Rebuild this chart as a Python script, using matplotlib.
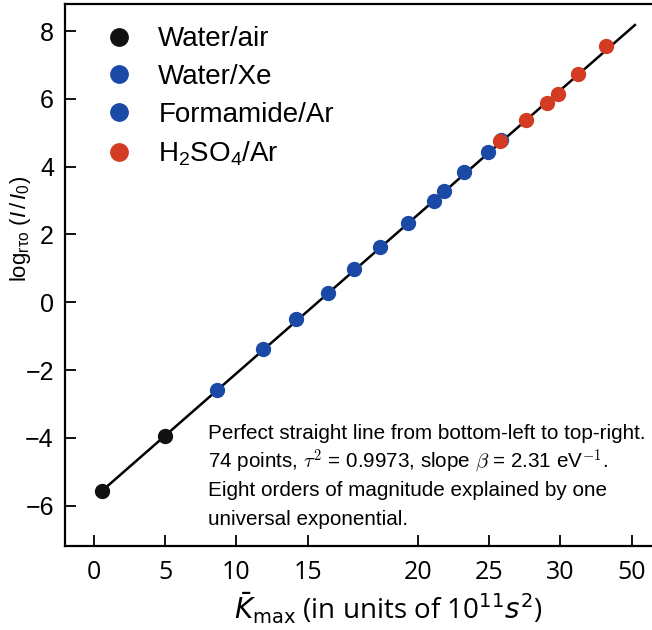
import numpy as np
import matplotlib
matplotlib.use("Agg")
import matplotlib.pyplot as plt

# ---------------- data ----------------
tick_values = [0, 5, 10, 15, 20, 25, 30, 50]
tick_labels = ["0", "5", "10", "15", "20", "25", "30", "50"]
yticks = [-6, -4, -2, 0, 2, 4, 6, 8]

water_air_x = [0.54, 4.95]
water_air_y = [-5.57, -3.94]

water_xe_x = [8.61, 11.88, 14.21, 15.90, 17.08, 18.29]
water_xe_y = [-2.60, -1.38, -0.50, 0.26, 0.97, 1.64]

formamide_x = [19.55, 21.15, 21.85, 23.26, 24.90, 25.85]
formamide_y = [2.33, 2.99, 3.28, 3.83, 4.42, 4.78]

h2so4_x = [25.77, 27.58, 29.06, 29.79, 34.9, 42.8]
h2so4_y = [4.76, 5.38, 5.88, 6.14, 6.74, 7.56]

fit_x = [0.54, 50.9]
fit_y = [-5.57, 8.18]

# piecewise axis mapping (non-uniform tick spacing of the original)
scale_k = [-5, 0, 5, 10, 15, 20, 25, 30, 50, 70]
scale_p = [-1, 0, 1, 2, 3, 4.55, 5.55, 6.55, 7.55, 8.55]

def fwd(x):
    return np.interp(np.asarray(x, dtype=float), scale_k, scale_p)

# ---------------- style ----------------
plt.rcParams['mathtext.fontset'] = 'custom'
plt.rcParams['mathtext.rm'] = 'Liberation Sans'
plt.rcParams['mathtext.it'] = 'Liberation Sans:italic'
plt.rcParams['mathtext.bf'] = 'Liberation Sans:bold'

BLACK = '#111111'
BLUE = '#1b4aa6'
RED = '#d33c22'

fig = plt.figure(figsize=(6.52, 6.30), dpi=100)
ax = fig.add_axes([65/652, 1 - 546/630, 1 - 65/652, (546 - 4)/630])

ax.plot(fwd(fit_x), fit_y, color='black', lw=1.8, zorder=2)

ms = 10
ax.plot(fwd(water_air_x), water_air_y, 'o', color=BLACK, ms=ms, label='Water/air', zorder=3)
ax.plot(fwd(water_xe_x), water_xe_y, 'o', color=BLUE, ms=ms, label='Water/Xe', zorder=3)
ax.plot(fwd(formamide_x), formamide_y, 'o', color=BLUE, ms=ms, label='Formamide/Ar', zorder=3)
ax.plot(fwd(h2so4_x), h2so4_y, 'o', color=RED, ms=ms, label=r'H$_2$SO$_4$/Ar', zorder=4)

ax.set_xlim(fwd(-2.04), fwd(55.7))
ax.set_ylim(-7.19, 8.80)

ax.set_xticks(fwd(tick_values))
ax.set_xticklabels(tick_labels, fontfamily='Open Sans', fontsize=18)
ax.set_yticks(yticks)
ax.set_yticklabels([str(v).replace('-', '\u2212') for v in yticks],
                   fontfamily='Liberation Sans', fontsize=18)
ax.minorticks_off()
ax.tick_params(axis='x', direction='in', length=8, width=1.3, pad=10)
ax.tick_params(axis='y', direction='in', length=8, width=1.3, pad=8)

for s in ['left', 'bottom', 'top']:
    ax.spines[s].set_linewidth(1.6)
ax.spines['right'].set_visible(False)

ax.set_xlabel(r'$\bar{K}_{\mathrm{max}}$ (in units of 10$^{11}$$s^2$)',
              fontfamily='Open Sans', fontsize=20, math_fontfamily='dejavusans')
ax.xaxis.set_label_coords(0.55, -0.082)

ax.set_ylabel(r'log$_{\mathrm{r\tau o}}$ $(I\,/\,I_0)$', fontfamily='Liberation Sans',
              fontsize=16)
ax.yaxis.set_label_coords(-0.054, 0.585)

leg = ax.legend(loc='upper left', frameon=False,
                prop={'family': 'Liberation Sans', 'size': 20},
                markerscale=1.25, handletextpad=0.8, labelspacing=0.42,
                borderaxespad=0.2, bbox_to_anchor=(0.036, 0.9895), handlelength=1.2)

lines = [
    "Perfect straight line from bottom-left to top-right.",
    r"74 points, $\tau^2$ = 0.9973, slope $\beta$ = 2.31 eV$^{-1}$.",
    "Eight orders of magnitude explained by one",
    "universal exponential.",
]
ys = [439, 468, 496, 525]
for t, yp in zip(lines, ys):
    fig.text(208/652, 1 - yp/630, t, fontfamily='Liberation Sans', fontsize=14.9,
             va='baseline', ha='left', math_fontfamily='cm')

fig.savefig('out.png', dpi=100)
